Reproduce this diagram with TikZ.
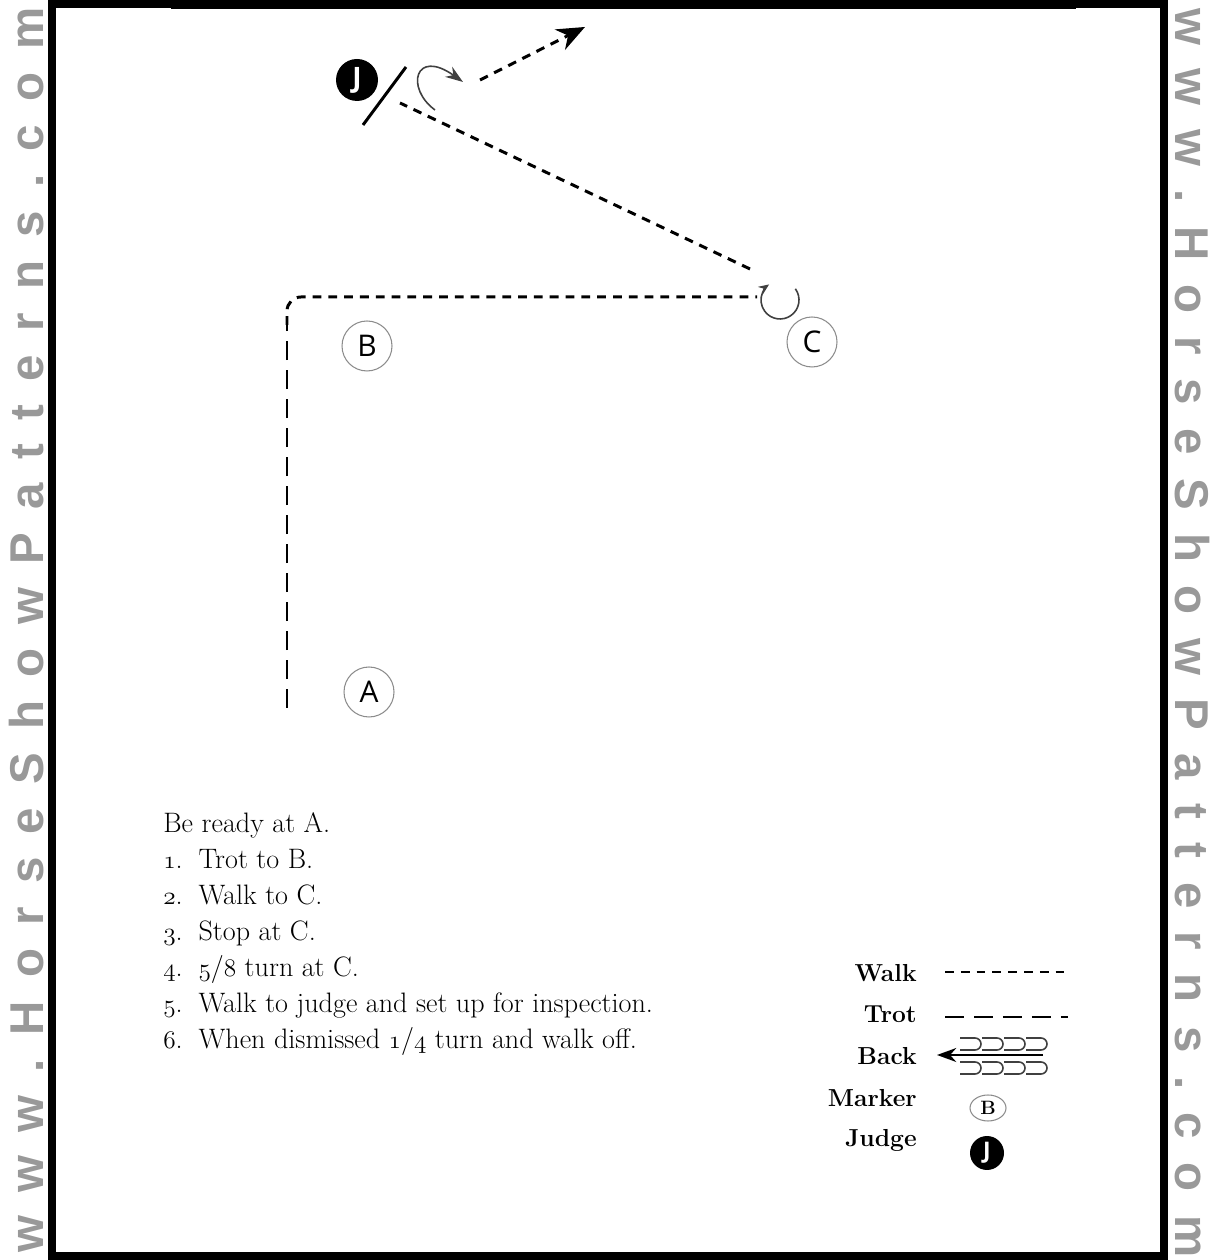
\documentclass[tikz,border=0pt]{standalone}
\usepackage{fontspec}
\usepackage{tikz}
\usetikzlibrary{arrows.meta, positioning, shapes.geometric}
\newfontfamily\markerfont{Open Sans}
\newfontfamily\wmfont{Liberation Sans}
\newcommand{\osnum}[1]{{\fontsize{14.4}{20.4}\usefont{OML}{cmm}{m}{it}#1}}
\newcommand{\wmtext}{w\hfill w\hfill w\hfill .\hfill H\hfill o\hfill r\hfill s\hfill e\hfill S\hfill h\hfill o\hfill w\hfill P\hfill a\hfill t\hfill t\hfill e\hfill r\hfill n\hfill s\hfill .\hfill c\hfill o\hfill m}

\begin{document}
\begin{tikzpicture}[
    x=0.02cm, y=0.02cm,
    marker/.style={circle, draw=black!45, line width=0.6pt, minimum size=1cm, inner sep=0pt, font=\markerfont\fontsize{17}{17}\selectfont},
    judge/.style={circle, fill=black, text=white, minimum size=0.84cm, inner sep=0pt, font=\markerfont\bfseries\fontsize{16}{16}\selectfont},
    walk/.style={line width=1.7pt, dash pattern=on 5pt off 4pt},
    trot/.style={line width=1.7pt, dash pattern=on 11pt off 5.5pt},
    turn/.style={line width=0.9pt, draw=black!75},
    legendlabel/.style={anchor=base east, inner sep=0pt, font=\bfseries\fontsize{14}{14}\selectfont},
    watermark/.style={anchor=base, inner sep=0pt, text=black!40, font=\wmfont\bfseries\fontsize{27}{27}\selectfont}
]
\useasboundingbox (0,0) rectangle (1219,1260);

% watermark on both sides
\node[watermark, rotate=90] (wmleft) at (43,630) {\hbox to 24.92cm{\wmtext}};
\node[watermark, rotate=-90] (wmright) at (1175,627) {\hbox to 24.98cm{\wmtext}};

% arena frame
\draw[line width=4.5pt] (52,4) rectangle (1164,1256);
\draw[line width=1pt] (172,1260) |- (1075,1252) -- (1075,1260);

% markers and judge
\node[marker] (A) at (369,568) {A};
\node[marker] (B) at (367,914) {B};
\node[marker] (C) at (812,918) {C};
\node[judge] (J) at (357,1180) {J};

% pattern points
\coordinate (start) at (287,552);
\coordinate (trotend) at (287,935);
\coordinate (stop) at (757,963);
\coordinate (turnC) at (780,960);
\coordinate (walkJ) at (750,991);
\coordinate (setup) at (400,1157);
\coordinate (lineA) at (363,1135);
\coordinate (lineB) at (406,1193);
\coordinate (qturn) at (435,1150);
\coordinate (qturnend) at (463,1178);
\coordinate (offstart) at (480,1180);
\coordinate (offend) at (585,1233);

\draw[trot] (start) -- (trotend);
\draw[walk, rounded corners=8pt] (trotend) |- (stop);
\draw[turn, -{Stealth[length=6pt, width=5pt]}] (turnC) ++(36:19) arc[start angle=36, end angle=-235, radius=19];
\draw[walk] (walkJ) -- (setup);
\draw[line width=1.7pt] (lineA) -- (lineB);
\draw[turn, -{Stealth[length=10pt, width=7pt]}] (qturn) .. controls (405,1172) and (415,1212) .. (qturnend);
\draw[walk, -{Stealth[length=16pt, width=13pt]}] (offstart) -- (offend);

% instructions
\node[anchor=base west, inner sep=0pt, font=\fontsize{16}{20.4}\selectfont] (steps) at (163,427) {%
\begin{tabular}[t]{@{}l@{\hspace{9pt}}l@{}}
\multicolumn{2}{@{}l@{}}{Be ready at A.}\\
\osnum{1}. & Trot to B.\\
\osnum{2}. & Walk to C.\\
\osnum{3}. & Stop at C.\\
\osnum{4}. & \osnum{5}/\osnum{8} turn at C.\\
\osnum{5}. & Walk to judge and set up for inspection.\\
\osnum{6}. & When dismissed \osnum{1}/\osnum{4} turn and walk off.
\end{tabular}};

% legend
\node[legendlabel] (lwalk) at (917,278) {Walk};
\node[legendlabel] (ltrot) at (917,237) {Trot};
\node[legendlabel] (lback) at (917,195) {Back};
\node[legendlabel] (lmarker) at (917,153) {Marker};
\node[legendlabel] (ljudge) at (917,113) {Judge};

\coordinate (walk1) at (945,288);
\coordinate (walk2) at (1068,288);
\coordinate (trot1) at (945,243);
\coordinate (trot2) at (1068,243);
\coordinate (back1) at (1043,205);
\coordinate (back2) at (937,205);
\draw[walk] (walk1) -- (walk2);
\draw[trot] (trot1) -- (trot2);
\draw[line width=0.9pt, -{Stealth[length=11pt, width=8pt]}] (back1) -- (back2);
\foreach \x in {960,982,1004,1026} {
  \draw[turn] (\x,222) -- (\x+15,222) arc[start angle=90, end angle=-90, radius=6] -- (\x,210);
  \draw[turn] (\x,198) -- (\x+15,198) arc[start angle=90, end angle=-90, radius=6] -- (\x,186);
}
\node[ellipse, draw=black!45, line width=0.6pt, minimum width=0.72cm, minimum height=0.52cm, inner sep=0pt, font=\bfseries\fontsize{11}{11}\selectfont] (mkey) at (988,152) {B};
\node[judge, minimum size=0.68cm, font=\markerfont\bfseries\fontsize{13}{13}\selectfont] (jkey) at (987,107) {J};

\end{tikzpicture}
\end{document}
